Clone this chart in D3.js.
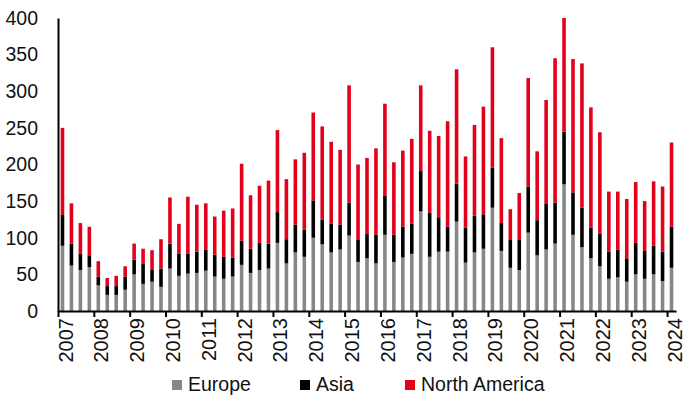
<!DOCTYPE html>
<html>
<head>
<meta charset="utf-8">
<script src="https://cdn.jsdelivr.net/npm/d3@7"></script>
<style>
  body { margin: 0; background: #fff; }
  svg { display: block; font-family: "Liberation Sans", Arial, sans-serif; }
</style>
</head>
<body>
<div id="chart"></div>
<script>
// quarterly values, 2007 Q1 .. 2024 Q1
const years = d3.range(2007, 2025);
const quarters = d3.range(69);
const europe = [89, 62, 56, 60, 35, 22, 22, 29, 50, 37, 40, 33, 58, 48, 51, 52, 55, 47, 44, 47,
  63, 52, 56, 58, 93, 65, 80, 74, 100, 91, 80, 84, 103, 67, 72, 65, 104, 67, 73, 78,
  136, 74, 81, 81, 122, 66, 80, 85, 141, 82, 59, 56, 107, 76, 84, 92, 173, 104, 87, 72,
  61, 44, 46, 40, 50, 44, 50, 41, 59];
const asia = [42, 30, 22, 16, 12, 12, 12, 18, 20, 28, 16, 25, 34, 30, 27, 29, 29, 30, 30, 26,
  33, 33, 37, 34, 42, 33, 38, 37, 51, 34, 39, 34, 45, 30, 33, 39, 54, 37, 42, 41,
  55, 60, 47, 34, 52, 48, 50, 47, 55, 38, 38, 41, 63, 48, 63, 56, 72, 58, 54, 42,
  45, 37, 38, 31, 43, 38, 39, 40, 56];
const northAmerica = [119, 55, 42, 39, 21, 11, 14, 14, 22, 20, 27, 40, 63, 41, 78, 64, 63, 52, 63, 67,
  105, 73, 78, 86, 112, 82, 89, 105, 120, 127, 112, 102, 160, 103, 104, 118, 125, 99, 104, 116,
  117, 112, 111, 144, 156, 97, 124, 147, 164, 116, 42, 64, 148, 94, 141, 197, 155, 182, 197, 164,
  138, 82, 79, 82, 83, 68, 88, 89, 115];
const seriesNames = ['Europe', 'Asia', 'North America'];
const colors = ['#878787', '#000000', '#e2001a'];
const yTicks = [0, 50, 100, 150, 200, 250, 300, 350, 400];

const width = 690;
const height = 399;
const plotLeft = 58, plotRight = 676, plotTop = 18, plotBottom = 311;

const rows = quarters.map(i => ({
  i: i,
  'Europe': europe[i],
  'Asia': asia[i],
  'North America': northAmerica[i]
}));
const stacked = d3.stack().keys(seriesNames)(rows);

const x = d3.scaleBand()
  .domain(quarters)
  .range([plotLeft, plotRight])
  .paddingInner(0.6)
  .paddingOuter(0.3);
const yearX = d3.scaleLinear()
  .domain([2007, 2007 + quarters.length / 4])
  .range([plotLeft, plotRight]);
const y = d3.scaleLinear().domain([0, 400]).range([plotBottom, plotTop]);

const svg = d3.select('#chart').append('svg')
  .attr('width', width)
  .attr('height', height);

svg.append('g')
  .selectAll('g')
  .data(stacked)
  .join('g')
  .attr('fill', (d, k) => colors[k])
  .selectAll('rect')
  .data(d => d)
  .join('rect')
  .attr('x', d => x(d.data.i))
  .attr('width', x.bandwidth())
  .attr('y', d => y(d[1]))
  .attr('height', d => y(d[0]) - y(d[1]));

// y axis
const yAxis = svg.append('g')
  .attr('transform', `translate(${plotLeft},0)`)
  .call(d3.axisLeft(y).tickValues(yTicks).tickSize(0).tickSizeOuter(0).tickPadding(20));
yAxis.select('.domain').attr('stroke', '#000').attr('stroke-width', 2);
yAxis.selectAll('text')
  .attr('font-size', 19.5)
  .attr('fill', '#111')
  .attr('font-family', '"Liberation Sans", Arial, sans-serif');

// x axis
const xAxis = svg.append('g')
  .attr('transform', `translate(0,${plotBottom})`)
  .call(d3.axisBottom(yearX).tickValues(years).tickFormat(d3.format('d')).tickSize(6).tickSizeOuter(0));
xAxis.select('.domain').attr('stroke', '#000').attr('stroke-width', 2);
xAxis.selectAll('.tick line').attr('stroke', '#000').attr('stroke-width', 2);
xAxis.selectAll('text')
  .attr('font-size', 20)
  .attr('fill', '#111')
  .attr('font-family', '"Liberation Sans", Arial, sans-serif')
  .attr('text-anchor', 'end')
  .attr('dy', null)
  .attr('y', null)
  .attr('transform', 'translate(14,7) rotate(-90)');

// legend
const legendX = [172, 300, 405];
const legend = svg.append('g')
  .selectAll('g')
  .data(seriesNames)
  .join('g')
  .attr('transform', (d, k) => `translate(${legendX[k]},380)`);
legend.append('rect')
  .attr('width', 10)
  .attr('height', 10)
  .attr('fill', (d, k) => colors[k]);
legend.append('text')
  .attr('x', 16)
  .attr('y', 11)
  .attr('font-size', 19.5)
  .attr('fill', '#111')
  .text(d => d);
</script>
</body>
</html>
